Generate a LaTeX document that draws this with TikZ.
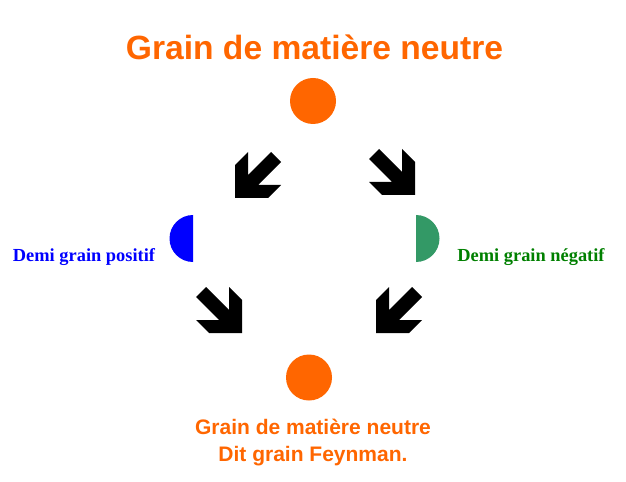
\documentclass[tikz,border=0pt]{standalone}
\usepackage{fontspec}
\setmainfont{Liberation Serif}
\setsansfont{Liberation Sans}
\definecolor{grainorange}{HTML}{FF6600}
\definecolor{posblue}{HTML}{0000FF}
\definecolor{neghalf}{HTML}{339966}
\definecolor{negtext}{HTML}{008000}
\tikzset{
  titletext/.style={text=grainorange, font=\sffamily\bfseries\fontsize{33.6bp}{40bp}\selectfont, anchor=base, inner sep=0pt},
  bottomtext/.style={text=grainorange, font=\sffamily\bfseries\fontsize{21bp}{27bp}\selectfont, anchor=base, align=center, inner sep=0pt},
  sidetext/.style={font=\rmfamily\bfseries\fontsize{18.4bp}{22bp}\selectfont, anchor=base, inner sep=0pt},
  grain/.style={circle, fill=grainorange, minimum size=46bp, inner sep=0pt},
  pics/blockarrow/.style={code={
    \fill[black] (0,0) -- (33,0) -- (46,-13) -- (23,-13) -- (46,-36) -- (36,-46)
      -- (13,-23) -- (13,-46) -- (0,-33) -- cycle;
  }}
}
\begin{document}
\begin{tikzpicture}[x=1bp, y=-1bp]
\useasboundingbox[fill=white] (0,0) rectangle (626,482);
% title
\node[titletext] (title) at (314.5,60) {Grain de matière neutre};
% grains
\node[grain] (top) at (313,101) {};
\node[grain] (bottom) at (309,377.5) {};
% half grains
\fill[posblue] (193,262) arc[start angle=90, end angle=270, radius=23.5] -- cycle;
\fill[neghalf] (416,215) arc[start angle=270, end angle=450, radius=23.5] -- cycle;
% labels
\node[sidetext, text=posblue] (poslabel) at (84,261) {Demi grain positif};
\node[sidetext, text=negtext] (neglabel) at (531,261) {Demi grain négatif};
\node[bottomtext] (bottomlabel) at (313,461) {Grain de matière neutre\\Dit grain Feynman.};
% arrows
\pic at (235,198) {blockarrow};
\pic[xscale=-1] at (415,195) {blockarrow};
\pic[xscale=-1] at (242,333) {blockarrow};
\pic at (376,333) {blockarrow};
\end{tikzpicture}
\end{document}
